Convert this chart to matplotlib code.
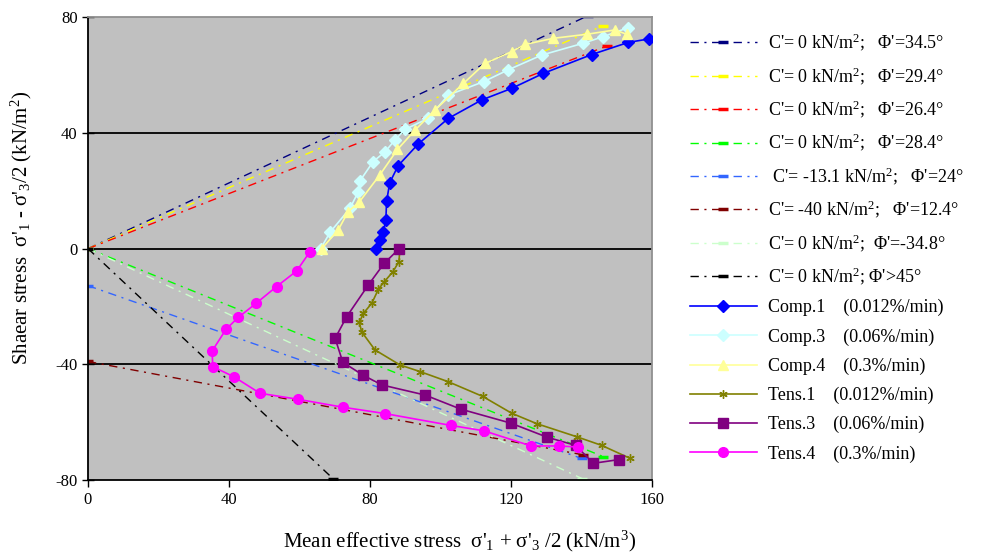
import numpy as np
import matplotlib
matplotlib.use("Agg")
import matplotlib.pyplot as plt

plt.rcParams["font.family"] = ["Liberation Serif", "DejaVu Serif"]
plt.rcParams["mathtext.fontset"] = "custom"
plt.rcParams["mathtext.rm"] = "Liberation Serif"
plt.rcParams["mathtext.it"] = "Liberation Serif:italic"
plt.rcParams["axes.unicode_minus"] = False

# failure envelopes (end points of each straight line)
env_labels = [
    "C'= 0 kN/m$^2$;   \u03a6'=34.5\u00b0",
    "C'= 0 kN/m$^2$;   \u03a6'=29.4\u00b0",
    "C'= 0 kN/m$^2$;   \u03a6'=26.4\u00b0",
    "C'= 0 kN/m$^2$;   \u03a6'=28.4\u00b0",
    " C'= -13.1 kN/m$^2$;   \u03a6'=24\u00b0",
    "C'= -40 kN/m$^2$;   \u03a6'=12.4\u00b0",
    "C'= 0 kN/m$^2$;  \u03a6'=-34.8\u00b0",
    "C'= 0 kN/m$^2$; \u03a6'>45\u00b0",
]
env_colors = ["#000080", "#FFFF00", "#FF0000", "#00FF00",
              "#3366FF", "#800000", "#CCFFCC", "#000000"]
env_p = [[0, 141.8], [0, 146.2], [0, 147.1], [0, 146.2],
         [0, 140.0], [0, 140.5], [0, 140.2], [0, 69.5]]
env_q = [[0, 80.5], [0, 77.1], [0, 70.0], [0, -71.9],
         [-12.8, -72.5], [-39.0, -71.3], [0, -79.5], [0, -79.5]]

# stress paths
comp1_p = [81.8, 82.8, 83.8, 84.5, 84.7, 85.6, 88.0, 93.7, 102.2, 111.7, 120.2, 129.2, 142.9, 153.3, 159.2]
comp1_q = [0.0, 3.0, 5.9, 9.9, 16.3, 22.8, 28.7, 36.2, 45.0, 51.4, 55.4, 60.6, 67.1, 71.3, 72.5]

comp3_p = [66.0, 68.7, 74.3, 76.7, 77.2, 80.9, 84.3, 87.1, 89.9, 96.5, 102.2, 112.2, 119.2, 128.7, 140.5, 146.2, 153.3]
comp3_q = [0.0, 5.7, 13.9, 19.7, 23.5, 30.1, 33.5, 37.6, 41.2, 45.0, 53.1, 57.7, 61.8, 66.9, 71.0, 73.3, 76.4]

comp4_p = [66.3, 71.0, 73.8, 77.0, 82.8, 87.8, 92.8, 98.4, 106.5, 112.6, 120.2, 124.0, 132.0, 141.5, 149.5, 152.8]
comp4_q = [0.0, 6.5, 12.8, 16.2, 25.5, 34.3, 41.0, 47.9, 57.1, 64.0, 68.1, 70.6, 72.7, 74.1, 75.6, 74.1]

tens1_p = [88.5, 88.2, 86.5, 84.0, 82.4, 80.5, 78.1, 77.0, 77.6, 81.4, 88.5, 94.2, 102.2, 112.0, 120.2, 127.3, 138.6, 145.7, 153.8]
tens1_q = [0.0, -4.5, -8.0, -11.5, -14.0, -18.9, -22.4, -25.5, -28.7, -35.0, -40.2, -42.5, -46.0, -51.1, -56.9, -60.5, -65.0, -68.0, -72.5]

tens3_p = [88.3, 84.0, 79.5, 73.4, 70.1, 72.3, 78.0, 83.3, 95.6, 105.8, 119.9, 130.3, 138.3, 143.4, 150.7]
tens3_q = [0.0, -5.1, -12.6, -23.5, -31.0, -39.3, -43.7, -47.1, -50.6, -55.5, -60.3, -65.2, -68.0, -74.2, -72.9]

tens4_p = [63.0, 59.2, 53.5, 47.7, 42.6, 39.2, 35.2, 35.4, 41.4, 48.8, 59.7, 72.2, 84.2, 102.9, 112.4, 125.7, 133.6, 139.1]
tens4_q = [-1.0, -7.7, -13.1, -18.9, -23.8, -27.8, -35.4, -40.8, -44.3, -50.0, -52.1, -54.8, -57.0, -61.1, -63.0, -68.2, -68.2, -68.6]

path_labels = ["Comp.1    (0.012%/min)", "Comp.3    (0.06%/min)", "Comp.4    (0.3%/min)",
               "Tens.1    (0.012%/min)", "Tens.3    (0.06%/min)", "Tens.4    (0.3%/min)"]

fig = plt.figure(figsize=(10, 5.55), dpi=100)
ax = fig.add_axes([0.088, 0.135, 0.564, 0.834])
ax.set_facecolor("#C0C0C0")

for y in [-40, 0, 40]:
    ax.axhline(y, color="black", lw=1.3, zorder=1)

for p, q, c, lab in zip(env_p, env_q, env_colors, env_labels):
    ax.plot(p, q, color=c, lw=1.0, dashes=(6, 4, 1.5, 4),
            marker="_", markersize=7, markeredgewidth=2.5, label=lab, zorder=2)

paths = [
    (comp1_p, comp1_q, "#0000FF", "D", 6),
    (comp3_p, comp3_q, "#CCFFFF", "D", 6),
    (comp4_p, comp4_q, "#FFFF99", "^", 7.5),
    (tens1_p, tens1_q, "#808000", (6, 2, 0), 6),
    (tens3_p, tens3_q, "#800080", "s", 6.5),
    (tens4_p, tens4_q, "#FF00FF", "o", 7),
]
for (p, q, c, m, ms), lab in zip(paths, path_labels):
    ax.plot(p, q, color=c, lw=1.2, marker=m, markersize=ms,
            markerfacecolor=c, markeredgecolor=c, label=lab, zorder=3)

ax.set_xlim(0, 160)
ax.set_ylim(-80, 80)
ax.set_xticks([0, 40, 80, 120, 160])
ax.set_yticks([-80, -40, 0, 40, 80])
ax.tick_params(labelsize=12, length=5, width=1, direction="out")
ax.tick_params(axis="y", direction="inout", length=8)
for s in ["left", "bottom"]:
    ax.spines[s].set_color("black")
    ax.spines[s].set_linewidth(1.3)
for s in ["top", "right"]:
    ax.spines[s].set_color("#909090")
    ax.spines[s].set_linewidth(1.3)

ax.set_xlabel("Mean effective stress  \u03c3'$_1$ + \u03c3'$_3$ /2 (kN/m$^3$)", fontsize=15)
ax.xaxis.set_label_coords(0.658, -0.106)
ax.set_ylabel("Shaear stress  \u03c3'$_1$ - \u03c3'$_3$/2 (kN/m$^2$)", fontsize=15)
ax.yaxis.set_label_coords(-0.095, 0.545)

fig.legend(loc="upper left", bbox_to_anchor=(0.69, 0.943), frameon=False,
           fontsize=13, handlelength=3.7, handletextpad=0.6, labelspacing=0.66,
           numpoints=1, borderpad=0, borderaxespad=0)

fig.savefig("out.png", dpi=100)
